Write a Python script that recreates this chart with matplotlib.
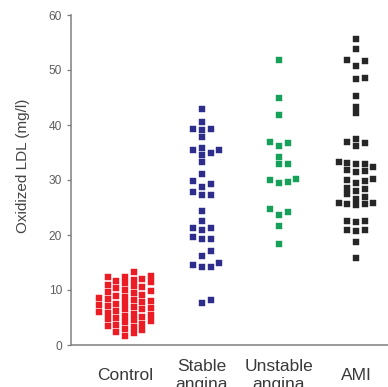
import matplotlib
matplotlib.use("Agg")
import matplotlib.pyplot as plt
import numpy as np

plt.rcParams['font.family'] = ['Liberation Sans', 'DejaVu Sans']

categories = ["Control", "Stable\nangina", "Unstable\nangina", "AMI"]
colors = ["#ec1c24", "#2e2d8c", "#17a05a", "#262626"]

control = [13.3, 12.6, 12.4, 12.3, 12.0, 11.9, 11.6, 11.4, 11.2, 10.9, 10.7, 10.5,
           10.3, 10.0, 9.8, 9.6, 9.5, 9.1, 8.9, 8.8, 8.6, 8.4, 8.2, 8.0, 7.9, 7.7,
           7.5, 7.3, 7.1, 7.0, 6.8, 6.6, 6.5, 6.2, 6.0, 5.9, 5.7, 5.5, 5.3, 5.1,
           4.9, 4.7, 4.6, 4.3, 4.1, 3.9, 3.7, 3.4, 3.2, 2.9, 2.7, 2.4, 2.1, 1.7]
stable = [42.9, 40.6, 39.2, 39.2, 39.1, 37.8, 35.8, 35.0, 35.5, 35.5, 34.5, 33.3,
          31.1, 29.8, 28.8, 29.2, 27.9, 27.3, 27.2, 24.4, 22.5, 21.3, 20.9, 21.3,
          19.2, 19.2, 19.6, 17.1, 16.1, 15.0, 14.1, 14.1, 14.6, 7.6, 8.1]
unstable = [51.8, 45.0, 41.9, 36.7, 36.1, 37.0, 34.1, 32.9, 32.9, 30.0, 29.7, 29.4,
            30.1, 23.6, 24.1, 24.7, 21.6, 18.3]
ami = [55.6, 53.8, 51.8, 50.8, 51.6, 48.5, 48.4, 45.3, 43.3, 42.1, 36.7, 36.2,
       36.9, 37.4, 32.9, 33.1, 33.2, 33.0, 32.4, 31.8, 31.5, 31.6, 30.0, 29.4,
       29.8, 30.2, 28.6, 28.0, 28.3, 27.4, 26.6, 27.0, 25.8, 25.6, 25.4, 25.7,
       25.9, 22.5, 22.4, 22.5, 20.9, 20.7, 21.0, 18.8, 15.8]
groups = [control, stable, unstable, ami]

yticks = [0, 10, 20, 30, 40, 50, 60]


def swarm_offsets(vals, col_w, min_dy):
    order = np.argsort(vals)
    placed = {}
    offs = np.zeros(len(vals))
    cand = [0]
    for k in range(1, 20):
        cand += [k, -k]
    for i in order:
        v = vals[i]
        for c in cand:
            if all(abs(v - u) >= min_dy for u in placed.get(c, [])):
                placed.setdefault(c, []).append(v)
                offs[i] = c * col_w
                break
    return offs


fig = plt.figure(figsize=(3.88, 3.87), dpi=100)
ax = fig.add_axes([71/388, 42/387, 317/388, 330/387])

for i, (vals, col) in enumerate(zip(groups, colors)):
    vals = np.array(vals)
    offs = swarm_offsets(vals, 0.113, 1.1)
    ax.plot(i + offs, vals, linestyle='none', marker='s', ms=3.7,
            mec=col, mew=0.3, mfc=col)

ax.set_xlim(-0.701, 3.416)
ax.set_ylim(0, 60)
ax.set_yticks(yticks)
ax.set_xticks(range(len(categories)))
ax.set_xticklabels(categories, fontsize=12.5, color="#3a3a3a", linespacing=1.2)
for t in ax.get_xticklabels():
    t.set_va('center')
ax.tick_params(axis='x', length=0, pad=22)
ax.tick_params(axis='y', length=3, width=0.9, color="#7a7a7a", labelsize=8.6,
               labelcolor="#5e5e5e", pad=3.5)
for s in ['top', 'right']:
    ax.spines[s].set_visible(False)
for s in ['left', 'bottom']:
    ax.spines[s].set_color("#808080")
    ax.spines[s].set_linewidth(1.1)

fig.text(23/388, 1 - 166/387, "Oxidized LDL (mg/l)", rotation=90, ha='center',
         va='center', fontsize=11, color="#444444")

fig.savefig("out.png", dpi=100)
